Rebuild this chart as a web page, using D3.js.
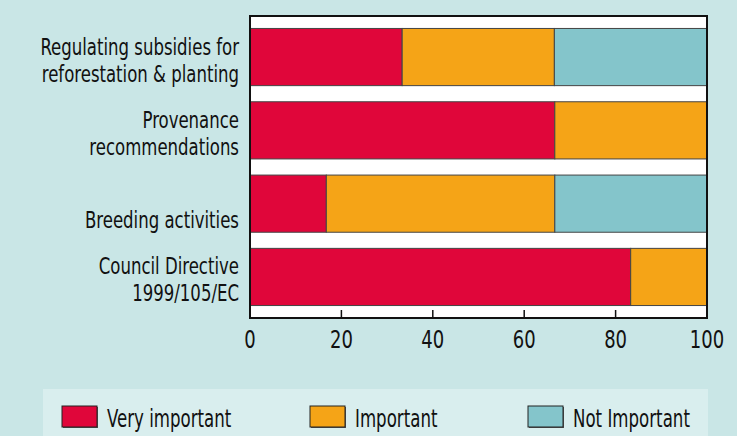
<!DOCTYPE html>
<html>
<head>
<meta charset="utf-8">
<script src="https://cdn.jsdelivr.net/npm/d3@7"></script>
<style>
  body { margin: 0; background: #c9e6e6; }
  svg { display: block; }
</style>
</head>
<body>
<div id="chart"></div>
<script>
const categories = [
  ['Regulating subsidies for', 'reforestation & planting'],
  ['Provenance', 'recommendations'],
  ['', 'Breeding activities'],
  ['Council Directive', '1999/105/EC']
];
const seriesNames = ['Very important', 'Important', 'Not Important'];
const veryImportant = [33.3, 66.7, 16.7, 83.3];
const important = [33.3, 33.3, 50, 16.7];
const notImportant = [33.4, 0, 33.3, 0];
const xTicks = [0, 20, 40, 60, 80, 100];
const colors = ['#e0063a', '#f5a417', '#84c5cb'];

const font = '"DejaVu Sans Condensed", "DejaVu Sans", sans-serif';
const W = 737, H = 436;
const margin = { top: 16, left: 250, right: 30, bottom: 118 };
const width = W - margin.left - margin.right,
  height = H - margin.top - margin.bottom;

const svg = d3.select('#chart').append('svg')
  .attr('width', W).attr('height', H);

svg.append('rect').attr('width', W).attr('height', H).attr('fill', '#c9e6e6');

const g = svg.append('g')
  .attr('transform', `translate(${margin.left}, ${margin.top})`);

const x = d3.scaleLinear().domain([0, 100]).range([0, width]);
const y = d3.scaleBand()
  .domain(d3.range(categories.length))
  .range([0, height])
  .paddingInner(0.22)
  .paddingOuter(0.17);

g.append('rect')
  .attr('width', width).attr('height', height)
  .attr('fill', '#fff');

const rows = categories.map((c, i) => ({
  i, vals: [veryImportant[i], important[i], notImportant[i]]
}));
const stack = d3.stack().keys([0, 1, 2]).value((d, k) => d.vals[k]);
const layers = stack(rows);

g.selectAll('g.layer')
  .data(layers)
  .enter().append('g')
  .attr('class', 'layer')
  .attr('fill', (d, k) => colors[k])
  .selectAll('rect')
  .data(d => d.filter(s => s[1] - s[0] > 0))
  .enter().append('rect')
  .attr('x', d => x(d[0]))
  .attr('y', d => y(d.data.i))
  .attr('width', d => x(d[1]) - x(d[0]))
  .attr('height', y.bandwidth())
  .attr('stroke', '#444')
  .attr('stroke-width', 1);

// x axis, ticks point inward from the bottom edge
const xAxis = g.append('g')
  .attr('transform', `translate(0, ${height})`);
xAxis.selectAll('line')
  .data(xTicks.slice(1, -1))
  .enter().append('line')
  .attr('x1', d => x(d)).attr('x2', d => x(d))
  .attr('y1', 0).attr('y2', -8)
  .attr('stroke', '#111').attr('stroke-width', 1.5);
xAxis.selectAll('text')
  .data(xTicks)
  .enter().append('text')
  .attr('transform', d => `translate(${x(d)}, 30) scale(0.8, 1)`)
  .attr('text-anchor', 'middle')
  .attr('font-family', font).attr('font-size', '25px')
  .attr('fill', '#111')
  .text(d => d);

g.append('rect')
  .attr('width', width).attr('height', height)
  .attr('fill', 'none')
  .attr('stroke', '#111').attr('stroke-width', 2);

// category labels, two lines each
g.selectAll('g.cat')
  .data(categories)
  .enter().append('g')
  .attr('class', 'cat')
  .attr('transform', (d, i) => `translate(-11, ${y(i) + y.bandwidth() / 2}) scale(0.8, 1)`)
  .selectAll('text')
  .data(d => d)
  .enter().append('text')
  .attr('y', (t, j) => j === 0 ? -2.5 : 24.5)
  .attr('text-anchor', 'end')
  .attr('font-family', font).attr('font-size', '23px')
  .attr('fill', '#111')
  .text(t => t);

// legend
const legend = svg.append('g');
legend.append('rect')
  .attr('x', 43).attr('y', 389).attr('width', 665).attr('height', 47)
  .attr('fill', '#d9eeee');
const legendX = [62, 310, 528];
const items = legend.selectAll('g.item')
  .data(seriesNames)
  .enter().append('g')
  .attr('class', 'item')
  .attr('transform', (d, k) => `translate(${legendX[k]}, 406)`);
items.append('rect')
  .attr('x', 1).attr('y', 1).attr('width', 35).attr('height', 21)
  .attr('fill', '#555');
items.append('rect')
  .attr('width', 35).attr('height', 21)
  .attr('fill', (d, k) => colors[k])
  .attr('stroke', '#222').attr('stroke-width', 1);
items.append('text')
  .attr('transform', 'translate(45, 21) scale(0.74, 1)')
  .attr('font-family', font).attr('font-size', '25px')
  .attr('fill', '#111')
  .text(d => d);
</script>
</body>
</html>
